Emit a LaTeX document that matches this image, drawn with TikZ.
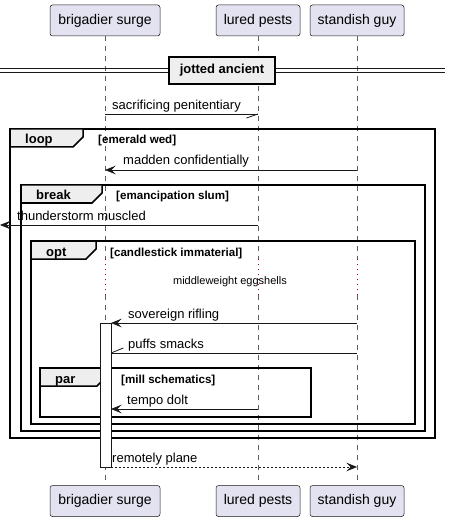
\documentclass[tikz,border=0pt]{standalone}
\usepackage{fontspec}
\setmainfont{Liberation Sans}
\usetikzlibrary{arrows.meta}
\definecolor{partfill}{HTML}{E2E2F0}
\definecolor{ink}{HTML}{181818}
\definecolor{tabfill}{HTML}{EEEEEE}
\definecolor{delaycol}{HTML}{A80036}
\tikzset{
  part/.style={draw=ink, line width=0.5pt, fill=partfill, rounded corners=2.5pt,
    minimum height=31pt, inner sep=0pt, font=\fontsize{14}{16}\selectfont},
  life/.style={draw=ink!70, line width=0.5pt, dash pattern=on 5pt off 5pt},
  delayline/.style={draw=delaycol, line width=0.8pt, dash pattern=on 1pt off 4pt},
  msg/.style={draw=ink, line width=0.8pt},
  tip/.style={-{Stealth[length=10.5pt,width=8.5pt,inset=4pt]}},
  msgtext/.style={font=\fontsize{13}{15}\selectfont, anchor=base west, inner sep=0pt},
  frame/.style={draw=black, line width=1.5pt},
  tab/.style={draw=black, line width=1.5pt, fill=tabfill},
  tabtext/.style={font=\bfseries\fontsize{13}{15}\selectfont, anchor=base west, inner sep=0pt},
  condtext/.style={font=\bfseries\fontsize{11.6}{13}\selectfont, anchor=base west, inner sep=0pt},
  delaytext/.style={font=\fontsize{11}{13}\selectfont, anchor=base, inner sep=0pt},
}
\begin{document}
\begin{tikzpicture}[x=1pt,y=-1pt]
\useasboundingbox (0,0) rectangle (450,521);

% participants
\node[part, minimum width=110pt] (bsT) at (105,20.5) {brigadier surge};
\node[part, minimum width=84pt]  (lpT) at (258,20.5) {lured pests};
\node[part, minimum width=94pt]  (sgT) at (357,20.5) {standish guy};
\node[part, minimum width=110pt] (bsB) at (105,501) {brigadier surge};
\node[part, minimum width=84pt]  (lpB) at (258,501) {lured pests};
\node[part, minimum width=94pt]  (sgB) at (357,501) {standish guy};

% lifelines with delay segment
\coordinate (dtop) at (0,259);
\coordinate (dbot) at (0,295);
\foreach \p in {bs,lp,sg}{
  \draw[life] (\p T.south) -- (\p T.south |- dtop);
  \draw[delayline] (\p T.south |- dtop) -- (\p T.south |- dbot);
  \draw[life] (\p T.south |- dbot) -- (\p B.north);
}

% divider
\draw[ink, line width=0.9pt] (0,68.3) -- (445,68.3);
\draw[ink, line width=0.9pt] (0,72) -- (445,72);
\node[draw=black, line width=1.6pt, fill=tabfill, minimum width=106pt, minimum height=27pt,
  inner sep=0pt, font=\bfseries\fontsize{13}{15}\selectfont] (div) at (222,70.5) {jotted ancient};

% message 1
\coordinate (m1s) at (105,114);
\coordinate (m1e) at (258,114);
\draw[msg] (m1s) -- (m1e);
\draw[msg] (m1e) -- ++(-11.6,4);
\node[msgtext] (t1) at (112,109.5) {sacrificing penitentiary};

% loop frame
\draw[frame] (10,129) rectangle (435,438);
\draw[tab] (10,129) -- (83,129) -- (83,137) -- (73,147) -- (10,147) -- cycle;
\node[tabtext] (loopl) at (25,144) {loop};
\node[condtext] (loopc) at (98,144) {[emerald wed]};

% message 2
\coordinate (m2s) at (357,170);
\coordinate (m2e) at (105,170);
\draw[msg,tip] (m2s) -- (m2e);
\node[msgtext] (t2) at (123,165) {madden confidentially};

% break frame
\draw[frame] (21,185) rectangle (425,431);
\draw[tab] (21,185) -- (102,185) -- (102,193) -- (92,203) -- (21,203) -- cycle;
\node[tabtext] (breakl) at (36,200) {break};
\node[condtext] (breakc) at (116,200) {[emancipation slum]};

% message 3
\coordinate (m3s) at (258,225);
\coordinate (m3e) at (0,225);
\draw[msg,tip] (m3s) -- (m3e);
\node[msgtext] (t3) at (17,220) {thunderstorm muscled};

% opt frame
\draw[frame] (31,241) rectangle (415,424);
\draw[tab] (31,241) -- (96,241) -- (96,249) -- (86,259) -- (31,259) -- cycle;
\node[tabtext] (optl) at (46,256) {opt};
\node[condtext] (optc) at (110,256) {[candlestick immaterial]};

% delay text
\node[delaytext] (dly) at (230,284) {middleweight eggshells};

% par frame
\draw[frame] (40,368) rectangle (311,417);
\draw[tab] (40,368) -- (107,368) -- (107,376) -- (97,386) -- (40,386) -- cycle;
\node[tabtext] (parl) at (55,383) {par};
\node[condtext] (parc) at (121,383) {[mill schematics]};

% activation
\node[draw=ink, fill=white, line width=0.8pt, minimum width=11pt, minimum height=144pt,
  inner sep=0pt, anchor=north west] (act) at (100,323) {};

% message 5
\coordinate (m5s) at (357,323);
\coordinate (m5e) at (111,323);
\draw[msg,tip] (m5s) -- (m5e);
\node[msgtext] (t5) at (128,318) {sovereign rifling};

% message 6
\coordinate (m6s) at (357,353);
\coordinate (m6e) at (111,353);
\draw[msg] (m6s) -- (m6e);
\draw[msg] (m6e) -- ++(12.4,-5);
\node[msgtext] (t6) at (128,348) {puffs smacks};

% message 7
\coordinate (m7s) at (258,409);
\coordinate (m7e) at (111,409);
\draw[msg,tip] (m7s) -- (m7e);
\node[msgtext] (t7) at (127,404) {tempo dolt};

% message 8
\coordinate (m8s) at (111,467);
\coordinate (m8e) at (357,467);
\draw[msg,tip,dash pattern=on 2pt off 2pt] (m8s) -- (m8e);
\node[msgtext] (t8) at (112,462) {remotely plane};
\end{tikzpicture}
\end{document}
